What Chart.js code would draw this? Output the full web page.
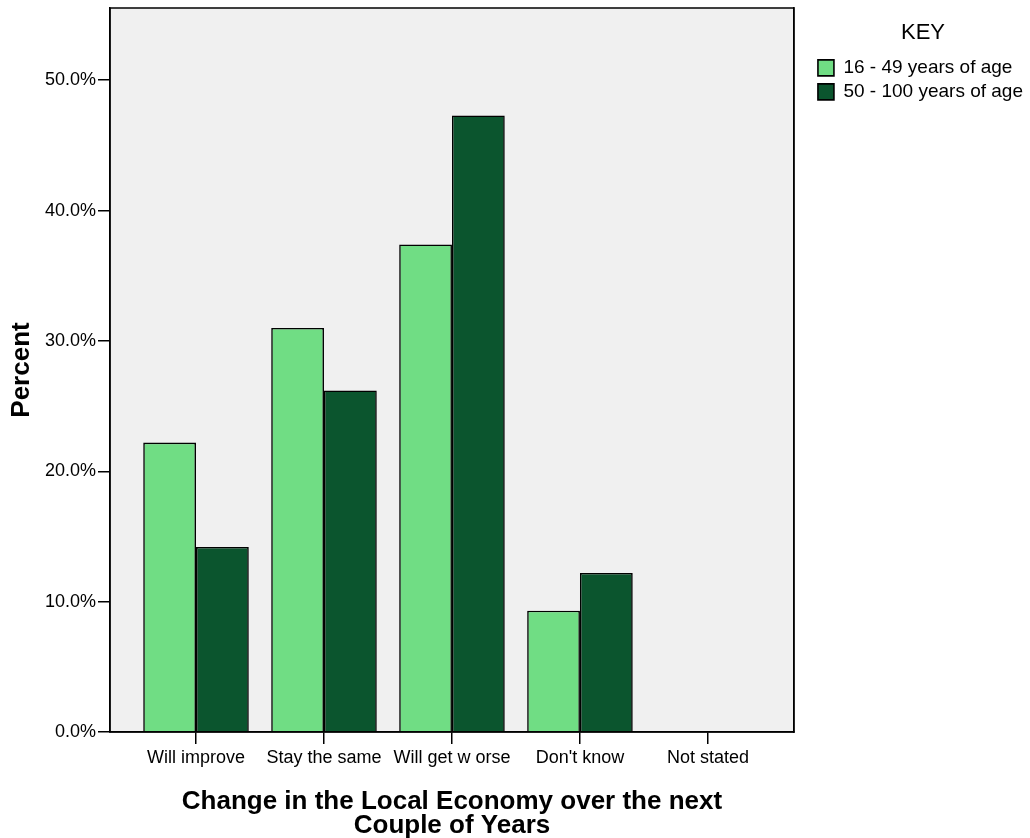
<!DOCTYPE html>
<html>
<head>
<meta charset="utf-8">
<script src="https://cdn.jsdelivr.net/npm/chart.js@4.4.1/dist/chart.umd.min.js"></script>
<style>
html,body{margin:0;padding:0;background:#fff;}
#c{display:block;}
</style>
</head>
<body>
<canvas id="c" width="1030" height="838"></canvas>
<script>
const categories = ["Will improve", "Stay the same", "Will get w orse", "Don't know", "Not stated"];
const seriesNames = ["16 - 49 years of age", "50 - 100 years of age"];
const age16to49 = [22.2, 31.0, 37.4, 9.3, 0];
const age50to100 = [14.2, 26.2, 47.3, 12.2, 0];
const yTickValues = [0, 10, 20, 30, 40, 50];

const FONT = "'Liberation Sans', Arial, sans-serif";
const LIGHT = '#70DD84';
const DARK = '#0B552E';

const toPoints = arr => arr.map((v, i) => ({x: i, y: v}));

const bgPlugin = {
  id: 'plotBg',
  beforeDraw(chart) {
    const {ctx, chartArea: a} = chart;
    ctx.save();
    ctx.fillStyle = '#fff';
    ctx.fillRect(0, 0, chart.width, chart.height);
    ctx.fillStyle = '#F0F0F0';
    ctx.fillRect(a.left, a.top, a.right - a.left, a.bottom - a.top);
    ctx.restore();
  },
  afterDraw(chart) {
    const {ctx, chartArea: a} = chart;
    ctx.save();
    ctx.strokeStyle = '#000';
    ctx.lineWidth = 1.5;
    ctx.strokeRect(a.left, a.top, a.right - a.left, a.bottom - a.top);
    ctx.restore();
  }
};

new Chart(document.getElementById('c'), {
  type: 'bar',
  data: {
    datasets: [
      {label: seriesNames[0], data: toPoints(age16to49), backgroundColor: LIGHT, borderColor: '#000', borderWidth: 1.6, borderSkipped: 'start', yAxisID: 'y', xAxisID: 'x'},
      {label: seriesNames[1], data: toPoints(age50to100), backgroundColor: DARK, borderColor: '#000', borderWidth: 1.6, borderSkipped: 'start', yAxisID: 'y', xAxisID: 'x'}
    ]
  },
  options: {
    responsive: false,
    animation: false,
    devicePixelRatio: 1,
    categoryPercentage: 0.825,
    barPercentage: 1,
    layout: {padding: {top: 8, right: -3, bottom: 0, left: 0}},
    plugins: {
      tooltip: {enabled: false},
      legend: {
        position: 'right',
        align: 'start',
        maxWidth: 240,
        title: {display: true, text: 'KEY', color: '#000', font: {family: FONT, size: 22}, padding: {top: 14, bottom: 5}},
        labels: {color: '#000', font: {family: FONT, size: 19}, boxWidth: 16, boxHeight: 16, padding: 5}
      }
    },
    scales: {
      x: {
        type: 'linear',
        position: 'bottom',
        offset: false,
        min: -0.672,
        max: 4.672,
        afterFit(s) { s.height = 106; s.paddingLeft = 0; s.paddingRight = 0; },
        afterBuildTicks(s) { s.ticks = categories.map((c, i) => ({value: i})); },
        ticks: {
          autoSkip: false, maxRotation: 0, minRotation: 0, padding: 3,
          color: '#000', font: {family: FONT, size: 18},
          callback: v => categories[v]
        },
        grid: {display: true, offset: false, drawOnChartArea: false, drawTicks: true, tickLength: 12, color: '#000', lineWidth: 1.5},
        border: {display: true, color: '#000', width: 1.5},
        title: {display: true, text: ['Change in the Local Economy over the next', 'Couple of Years'], color: '#000',
          font: {family: FONT, size: 26, weight: 'bold', lineHeight: 0.94}, padding: {top: 0, bottom: 0}}
      },
      y: {
        type: 'linear',
        position: 'left',
        min: 0,
        max: 55.54,
        afterFit(s) { s.width = 110; s.paddingTop = 0; s.paddingBottom = 0; },
        afterBuildTicks(s) { s.ticks = yTickValues.map(v => ({value: v})); },
        ticks: {color: '#000', font: {family: FONT, size: 18}, padding: 2, callback: v => v.toFixed(1) + '%'},
        grid: {display: true, drawOnChartArea: false, drawTicks: true, tickLength: 12, color: '#000', lineWidth: 1.5},
        border: {display: true, color: '#000', width: 1.5},
        title: {display: true, text: 'Percent', color: '#000', font: {family: FONT, size: 26, weight: 'bold'}, padding: {top: 6, bottom: 0}}
      },
      y2: {
        type: 'linear',
        position: 'right',
        display: true,
        afterFit(s) { s.width = 19; s.paddingTop = 0; s.paddingBottom = 0; },
        ticks: {display: false},
        grid: {display: false, drawTicks: false},
        border: {display: true, color: '#000', width: 1.5}
      }
    }
  },
  plugins: [bgPlugin]
});
</script>
</body>
</html>
